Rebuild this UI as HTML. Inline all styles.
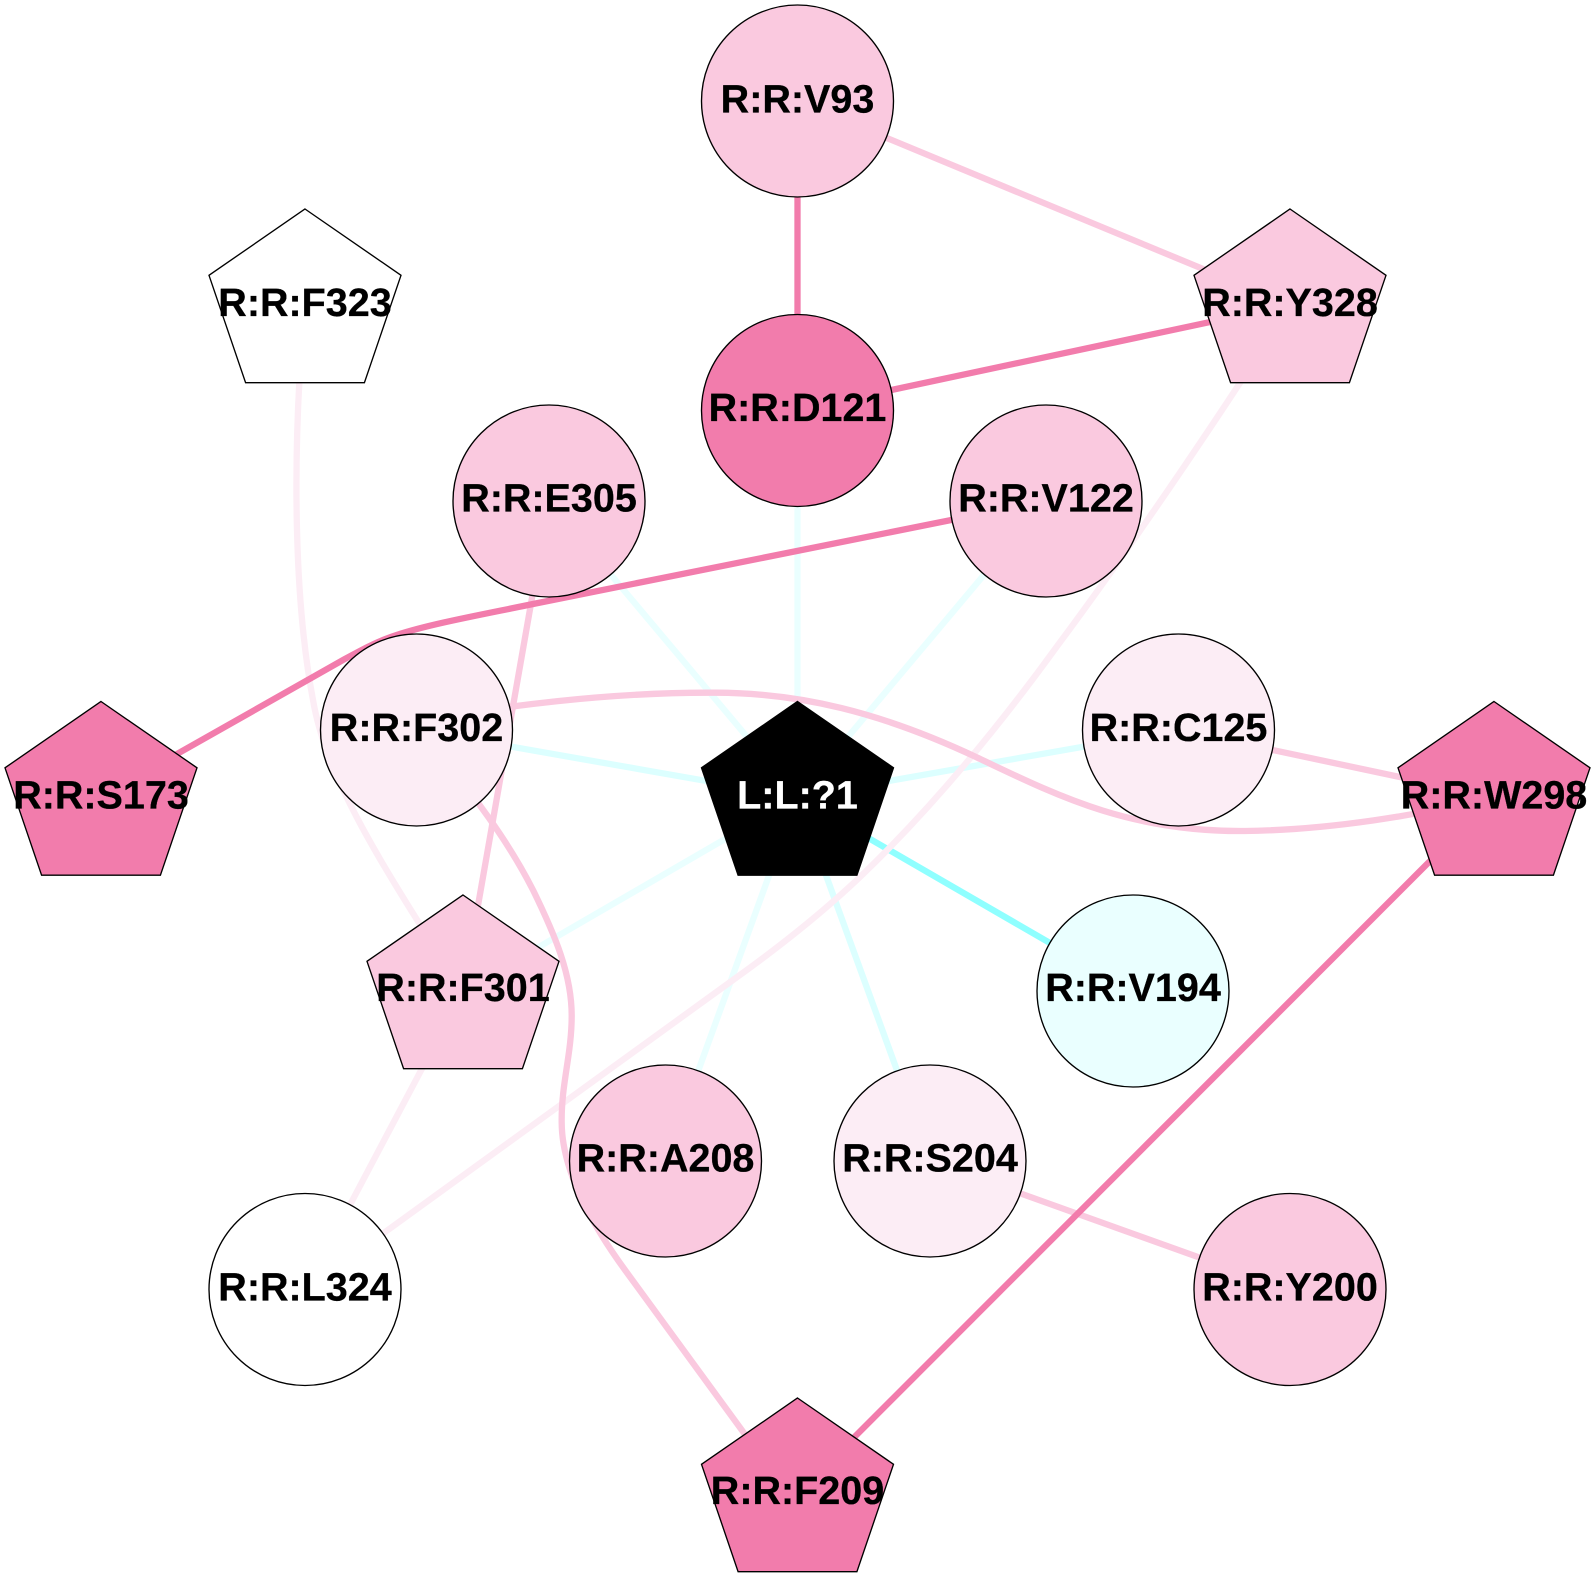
<!DOCTYPE html>
<html>
<head>
<meta charset="utf-8">
<style>
html,body{margin:0;padding:0;background:#fff;}
svg{display:block;}
text{font-family:"Liberation Sans",Arial,sans-serif;font-weight:bold;font-size:39.5px;text-anchor:middle;fill:#000;stroke:#000;stroke-width:.3;text-rendering:geometricPrecision;}
.n{stroke:#000;stroke-width:1.35;}
.e{fill:none;stroke-width:6.3;}
.d{stroke:#f27cac;}
.m{stroke:#fac9df;}
.l{stroke:#fcedf5;}
.c1{stroke:#eaffff;}
.c2{stroke:#dcffff;}
.c3{stroke:#8fffff;}
</style>
</head>
<body>
<svg xmlns="http://www.w3.org/2000/svg" width="1595" height="1595" viewBox="0 0 1595 1595">
<defs>
<polygon id="p" points="0,-96 96,-29.7 59.4,77.7 -59.4,77.7 -96,-29.7"/>
</defs>
<rect width="1595" height="1595" fill="#fff"/>

<!-- cyan edges -->
<path class="e c1" d="M797.5,410 L797.5,797"/>
<path class="e c1" d="M549,501 L797.5,797"/>
<path class="e c1" d="M1046,501 L797.5,797"/>
<path class="e c1" d="M463,991 L797.5,797"/>
<path class="e c1" d="M665.5,1161 L797.5,797"/>
<path class="e c2" d="M416.5,730 L797.5,797"/>
<path class="e c2" d="M1178.5,730 L797.5,797"/>
<path class="e c2" d="M930,1161 L797.5,797"/>
<path class="e c3" d="M1133,991 L797.5,797"/>

<!-- pink edges -->
<path class="e l" d="M300,370 C294,470 294,600 313,700 C325,770 370,850 463,991"/>
<path class="e l" d="M463,991 L305,1290"/>
<path class="e l" d="M1290,305 C1240,385 1140,535 1056.7,646.7 C1000,725 935,805 860,877 C820,915 775,950 733,980 L305,1290"/>
<path class="e m" d="M797.5,101 L1290,305"/>
<path class="e m" d="M549,501 L463,991"/>
<path class="e m" d="M1178.5,730 L1494,797"/>
<path class="e m" d="M930,1161 L1290,1290"/>
<path class="e m" d="M416,722 C500,706 610,692 716,692.7 C800,693 880,712 976,757 C1060,797 1130,832 1245,831 C1330,830 1420,815 1494,797"/>
<path class="e m" d="M416,730 C460,775 505,835 533,890 C555,935 572,975 571.7,1016.7 C571.5,1055 561,1085 561.7,1123 C562,1170 590,1222 625,1270 C670,1331 715,1393 760,1455"/>
<path class="e d" d="M797.5,101 L797.5,410"/>
<path class="e d" d="M797.5,410 L1290,305"/>
<path class="e d" d="M1494,797 L797.5,1494"/>
<path class="e d" d="M1046,501 L533,604 C480,615 430,624 396.7,635 C375,642 360,651 343,660 L101,797"/>

<!-- nodes -->
<circle class="n" cx="797.5" cy="101" r="96" fill="#fac9df"/>
<text x="797.5" y="112.5">R:R:V93</text>

<use href="#p" x="305" y="305" class="n" fill="#ffffff"/>
<text x="305" y="316">R:R:F323</text>

<use href="#p" x="1290" y="305" class="n" fill="#fac9df"/>
<text x="1290" y="316">R:R:Y328</text>

<circle class="n" cx="797.5" cy="410.5" r="96" fill="#f27cac"/>
<text x="797.5" y="421">R:R:D121</text>

<circle class="n" cx="549" cy="501" r="96" fill="#fac9df"/>
<text x="549" y="511.5">R:R:E305</text>

<circle class="n" cx="1046" cy="501" r="96" fill="#fac9df"/>
<text x="1046" y="511.5">R:R:V122</text>

<circle class="n" cx="416.5" cy="730" r="96" fill="#fcedf5"/>
<text x="416.5" y="741">R:R:F302</text>

<circle class="n" cx="1178.5" cy="730" r="96" fill="#fcedf5"/>
<text x="1178.5" y="741">R:R:C125</text>

<use href="#p" x="797.5" y="797.5" class="n" fill="#000000"/>
<text x="797.5" y="808.5" style="fill:#fff;stroke:#fff">L:L:?1</text>

<use href="#p" x="101" y="797.5" class="n" fill="#f27cac"/>
<text x="101" y="808.5">R:R:S173</text>

<use href="#p" x="1494" y="797.5" class="n" fill="#f27cac"/>
<text x="1494" y="808.5">R:R:W298</text>

<use href="#p" x="463" y="991" class="n" fill="#fac9df"/>
<text x="463" y="1001">R:R:F301</text>

<circle class="n" cx="1133" cy="991" r="96" fill="#eaffff"/>
<text x="1133" y="1001">R:R:V194</text>

<circle class="n" cx="665.5" cy="1161" r="96" fill="#fac9df"/>
<text x="665.5" y="1171.5">R:R:A208</text>

<circle class="n" cx="930" cy="1161" r="96" fill="#fcedf5"/>
<text x="930" y="1171.5">R:R:S204</text>

<circle class="n" cx="305" cy="1289.5" r="96" fill="#ffffff"/>
<text x="305" y="1300.5">R:R:L324</text>

<circle class="n" cx="1290" cy="1289.5" r="96" fill="#fac9df"/>
<text x="1290" y="1300.5">R:R:Y200</text>

<use href="#p" x="797.5" y="1494" class="n" fill="#f27cac"/>
<text x="797.5" y="1504">R:R:F209</text>
</svg>
</body>
</html>
